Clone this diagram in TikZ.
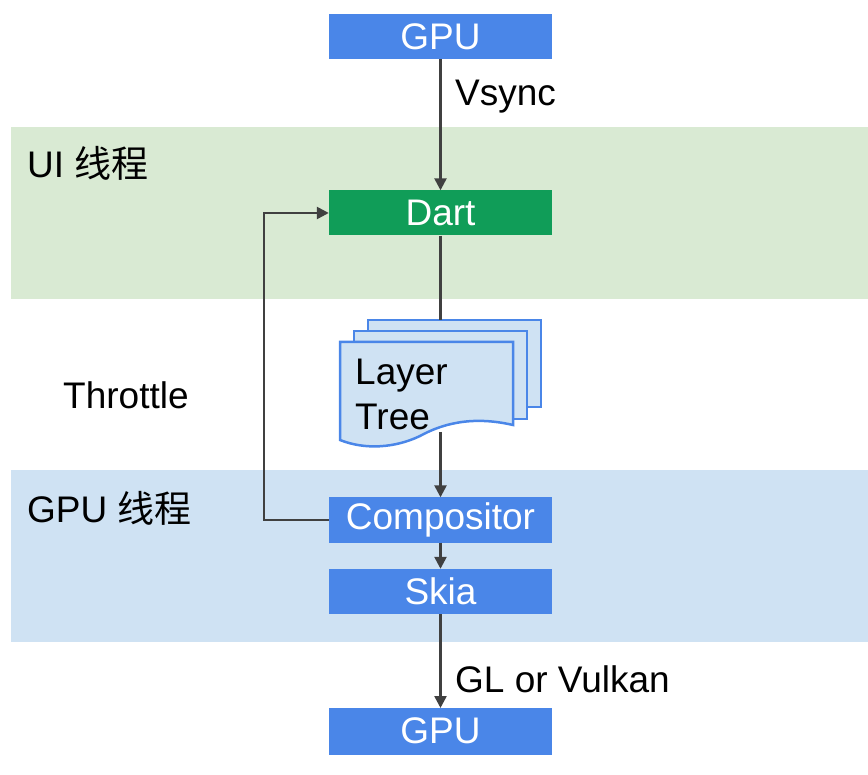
\documentclass[tikz,border=0pt]{standalone}
\usepackage{fontspec}
\setmainfont{Liberation Sans}
\newfontfamily\cjk{Noto Sans CJK SC}
\usetikzlibrary{arrows.meta}
\definecolor{gblue}{HTML}{4A86E8}
\definecolor{ggreen}{HTML}{109D58}
\definecolor{lgreen}{HTML}{D9EAD3}
\definecolor{lblue}{HTML}{CFE2F3}
\definecolor{ln}{HTML}{404040}
\begin{document}
\begin{tikzpicture}[x=1pt,y=-1pt,
  box/.style={draw=none,minimum width=223pt,minimum height=45pt,inner sep=0pt,text=white,font=\fontsize{37}{38}\selectfont},
  lbl/.style={anchor=west,inner sep=0pt,font=\fontsize{37}{38}\selectfont},
  conn/.style={draw=ln,line width=2.5pt},
  arr/.style={conn,-{Triangle[length=12pt,width=12pt]}},
  doc/.style={draw=gblue,fill=lblue,line width=2.5pt}]
\useasboundingbox (0,0) rectangle (868,775);
\fill[lgreen] (11,127) rectangle (868,299);
\fill[lblue] (11,470) rectangle (868,642);
\node[box,fill=gblue] (gpu1) at (440.5,36.5) {GPU};
\node[box,fill=ggreen] (dart) at (440.5,213) {Dart};
\node[box,fill=gblue] (comp) at (440.5,520) {Compositor};
\node[box,fill=gblue] (skia) at (440.5,591.5) {Skia};
\path[fill=gblue] (329,708) rectangle (552,755);
\begin{scope}
\clip (329,708) rectangle (552,755);
\node[box,fill=gblue] (gpu2) at (440.5,731) {GPU};
\end{scope}
\node[lbl] (vs) at (455,97) {Vsync};
\node[lbl] (gl) at (455,679) {GL or Vulkan};
\node[lbl] (ui) at (27,163) {UI {\cjk 线程}};
\node[lbl] (gt) at (27,508) {GPU {\cjk 线程}};
\node[lbl] (th) at (63,395) {Throttle};
\draw[doc] (368,320) rectangle (541,407);
\draw[doc] (354,331) rectangle (527,419);
\draw[doc] (340,342) -- (513,342) -- (513,425) .. controls (470,415) and (440,425) .. (420,436) .. controls (395,448) and (365,450) .. (340,440) -- cycle;
\node[anchor=west,inner sep=0pt,align=left,font=\fontsize{37}{45}\selectfont] (lt) at (355,394) {Layer\\Tree};
\coordinate (ltop) at (440.5,320);
\coordinate (lbot) at (440.5,432);
\draw[conn] (dart.south) -- (ltop);
\draw[arr] (gpu1.south) -- (dart.north);
\draw[arr] (lbot) -- (comp.north);
\draw[arr] (comp.south) -- (skia.north);
\draw[arr] (skia.south) -- (440.5,708);
\draw[arr] (comp.west) -- (264,520) -- (264,213) -- (dart.west);
\end{tikzpicture}
\end{document}
